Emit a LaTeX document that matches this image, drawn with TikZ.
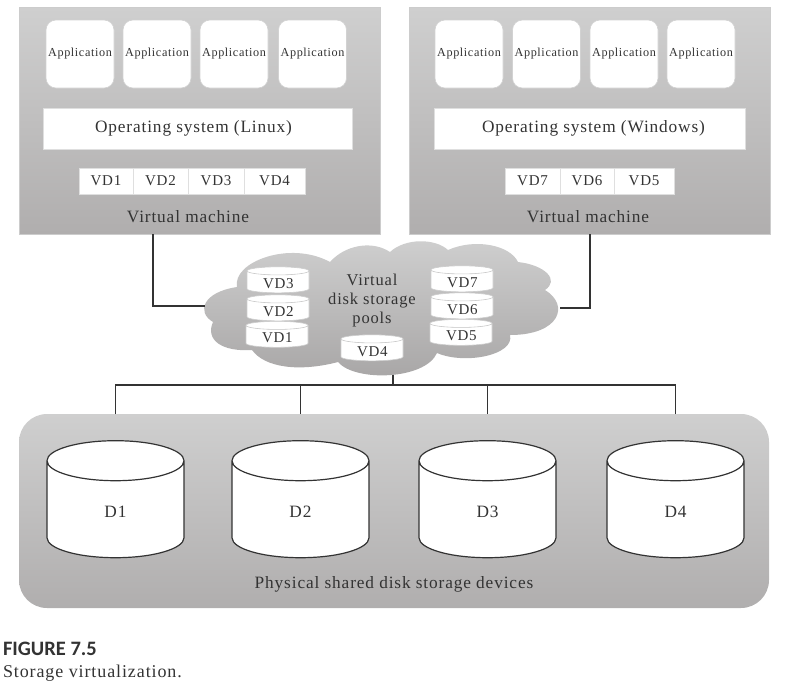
\documentclass[tikz,border=0pt]{standalone}
\usepackage{fontspec}
\setmainfont[LetterSpace=5]{Liberation Serif}
\setsansfont{Carlito}
\usepackage{xcolor}
\usepackage{tikz}
\usetikzlibrary{shapes,positioning,calc}
\definecolor{inkgray}{HTML}{333333}
\definecolor{paneltop}{HTML}{CFCFCF}
\definecolor{panelbot}{HTML}{B0AEAE}

\begin{document}
\begin{tikzpicture}[x=1pt, y=-1pt, inner sep=0pt, outer sep=0pt,
    txt/.style={font=\fontsize{17.3}{19}\selectfont, text=inkgray, align=center},
    smalltxt/.style={font=\fontsize{15}{16}\selectfont, text=inkgray, align=center},
    panel/.style={rectangle, top color=paneltop, bottom color=panelbot, minimum height=227pt, minimum width=361pt, draw=gray!40, line width=0.5pt},
    appbox/.style={rectangle, rounded corners=10pt, fill=white, draw=gray!35, line width=0.6pt, minimum width=68pt, minimum height=68pt, font=\fontsize{12.2}{14}\selectfont, text=inkgray},
    osbox/.style={rectangle, fill=white, draw=gray!25, line width=0.5pt, minimum height=41pt, txt},
    vdbox/.style={rectangle, fill=white, draw=gray!25, line width=0.5pt, minimum height=26pt, smalltxt},
    disk/.style={cylinder, shape border rotate=90, aspect=1, draw=inkgray, line width=1.2pt, cylinder uses custom fill, cylinder body fill=white, cylinder end fill=white, minimum width=137pt, minimum height=117pt, txt, text width=40pt, text height=20pt, text depth=4pt},
    minidisk/.style={cylinder, shape border rotate=90, aspect=0.27, draw=gray!40, line width=0.6pt, cylinder uses custom fill, cylinder body fill=white, cylinder end fill=white, minimum width=62pt, minimum height=26pt, smalltxt, text width=30pt, text height=12pt, text depth=0pt},
    link/.style={draw=inkgray, line width=1.4pt}]

    \useasboundingbox (0,0) rectangle (792,686);

    % Virtual machine, left
    \node[panel] (vmL) at (199.5,120.5) {};
    \node[appbox] (appL1) at (80,54) {Application};
    \node[appbox, right=9pt of appL1] (appL2) {Application};
    \node[appbox, right=9pt of appL2] (appL3) {Application};
    \node[appbox, right=10.5pt of appL3] (appL4) {Application};
    \node[osbox, minimum width=309pt] (osL) at (197.5,128.5) {Operating system (Linux)\hspace*{8pt}};
    \node[vdbox, minimum width=54pt] (cellL1) at (106,181) {VD1};
    \node[vdbox, minimum width=55pt, right=0pt of cellL1] (cellL2) {VD2};
    \node[vdbox, minimum width=56pt, right=0pt of cellL2] (cellL3) {VD3};
    \node[vdbox, minimum width=61pt, right=0pt of cellL3] (cellL4) {VD4};
    \node[txt] (nameL) at (188,217) {Virtual machine};

    % Virtual machine, right
    \node[panel] (vmR) at (590,120.5) {};
    \node[appbox] (appR1) at (469,54) {Application};
    \node[appbox, right=9.5pt of appR1] (appR2) {Application};
    \node[appbox, right=9.5pt of appR2] (appR3) {Application};
    \node[appbox, right=9pt of appR3] (appR4) {Application};
    \node[osbox, minimum width=311pt] (osR) at (589.5,128.5) {\hspace*{8pt}Operating system (Windows)};
    \node[vdbox, minimum width=55pt] (cellR1) at (532.5,181) {VD7};
    \node[vdbox, minimum width=54pt, right=0pt of cellR1] (cellR2) {VD6};
    \node[vdbox, minimum width=60pt, right=0pt of cellR2] (cellR3) {VD5};
    \node[txt] (nameR) at (588,217) {Virtual machine};

    % Cloud
    \shade[top color=paneltop, bottom color=panelbot!95!black] (213,322)
        .. controls (196,312) and (203,292) .. (237,287)
        .. controls (232,262) and (290,240) .. (330,262)
        .. controls (345,245) and (372,240) .. (390,252)
        .. controls (405,238) and (435,238) .. (448,250)
        .. controls (475,238) and (510,245) .. (518,262)
        .. controls (545,265) and (560,280) .. (545,290)
        .. controls (570,305) and (560,335) .. (510,335)
        .. controls (515,355) and (465,365) .. (437,353)
        .. controls (425,380) and (355,382) .. (338,362)
        .. controls (300,372) and (265,368) .. (252,350)
        .. controls (222,352) and (205,340) .. (213,322) -- cycle;
    \coordinate (cloudL) at (205,306);
    \coordinate (cloudR) at (560,308);
    \coordinate (cloudB) at (393,375);
    \node[txt, font=\fontsize{16.5}{19}\selectfont] (pooltext) at (372,301) {Virtual\\disk storage\\pools};
    \node[minidisk] (poolL3) at (278,282) {VD3};
    \node[minidisk] (poolL2) at (278,310) {VD2};
    \node[minidisk] (poolL1) at (277,336.5) {VD1};
    \node[minidisk] (poolR7) at (462,281) {VD7};
    \node[minidisk] (poolR6) at (462,308) {VD6};
    \node[minidisk] (poolR5) at (461,334.5) {VD5};
    \node[minidisk] (poolM4) at (372,350) {VD4};

    % Physical devices
    \node[rectangle, rounded corners=28pt, top color=paneltop, bottom color=panelbot, minimum width=750pt, minimum height=194pt] (phys) at (394,511) {};
    \node[disk] (d1) at (115.5,509.5) {D1};
    \node[disk] (d2) at (300.5,509.5) {D2};
    \node[disk] (d3) at (487.5,509.5) {D3};
    \node[disk] (d4) at (675.5,509.5) {D4};
    \node[txt] (physname) at (394,584) {Physical shared disk storage devices};

    % Links
    \coordinate (busM) at (393,385);
    \coordinate (stemL) at (153,234);
    \coordinate (stemR) at (590,234);
    \draw[link] (stemL) |- (cloudL);
    \draw[link] (stemR) |- (cloudR);
    \draw[link] (cloudB) -- (busM);
    \draw[link] (phys.north -| d1) |- (busM);
    \draw[link] (phys.north -| d4) |- (busM);
    \draw[link] (phys.north -| d2) -- (d2 |- busM);
    \draw[link] (phys.north -| d3) -- (d3 |- busM);

    % Caption
    \node[anchor=west, font=\sffamily\bfseries\fontsize{20.5}{22}\selectfont, text=inkgray] (figno) at (3,649) {FIGURE 7.5};
    \node[anchor=west, txt, font=\fontsize{18}{20}\selectfont] (figtext) at (3,673) {Storage virtualization.};
\end{tikzpicture}
\end{document}
